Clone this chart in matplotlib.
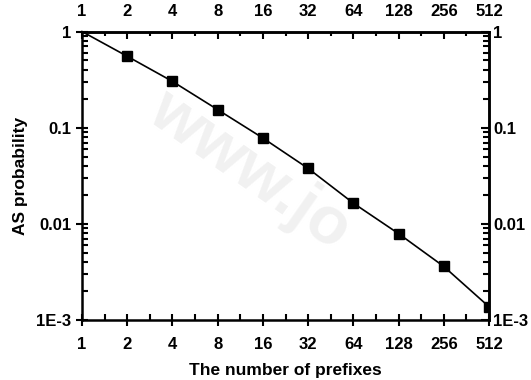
import numpy as np
import matplotlib.pyplot as plt
from matplotlib.ticker import FixedLocator, LogLocator, NullFormatter

plt.rcParams['font.family'] = ['Liberation Sans', 'DejaVu Sans']
plt.rcParams['font.weight'] = 'bold'

# --- данные ---
prefixes = [1, 2, 4, 8, 16, 32, 64, 128, 256, 512]
as_prob = [1.0, 0.553, 0.303, 0.154, 0.078, 0.0377, 0.0164, 0.0079, 0.0036, 0.00137]

x_ticks = [1, 2, 4, 8, 16, 32, 64, 128, 256, 512]
x_minor = [1.414 * v for v in x_ticks[:-1]]
y_ticks = [1e-3, 1e-2, 1e-1, 1]
y_labels = ['1E-3', '0.01', '0.1', '1']

fig = plt.figure(figsize=(5.31, 3.80), dpi=100)
ax = fig.add_axes([0.1544, 0.158, 0.7666, 0.759])

# бледный водяной знак
fig.text(0.47, 0.55, 'www.jo', fontsize=48, color='#f1f1f1', rotation=-35,
         ha='center', va='center', zorder=0, fontweight='bold')
ax.patch.set_alpha(0)

ax.plot(prefixes, as_prob, 'k-', linewidth=1.2, clip_on=False, zorder=3)
ax.plot(prefixes[1:], as_prob[1:], 'ks', markersize=6.5, zorder=4)

ax.set_xscale('log', base=2)
ax.set_yscale('log')
ax.set_xlim(1, 512)
ax.set_ylim(1e-3, 1)

ax.xaxis.set_major_locator(FixedLocator(x_ticks))
ax.xaxis.set_minor_locator(FixedLocator(x_minor))
ax.set_xticklabels([str(v) for v in x_ticks])
ax.xaxis.set_minor_formatter(NullFormatter())
ax.yaxis.set_major_locator(FixedLocator(y_ticks))
ax.set_yticklabels(y_labels)
ax.yaxis.set_minor_locator(LogLocator(base=10, subs=np.arange(2, 10)))
ax.yaxis.set_minor_formatter(NullFormatter())

ax.tick_params(which='major', direction='inout', length=9, width=1.5, labelsize=12, pad=3)
ax.tick_params(axis='x', which='major', pad=8)
ax.tick_params(which='minor', direction='in', length=4, width=1.5)

for s in ax.spines.values():
    s.set_linewidth(1.8)

# верхняя и правая оси
top = ax.secondary_xaxis('top')
top.xaxis.set_major_locator(FixedLocator(x_ticks))
top.xaxis.set_minor_locator(FixedLocator(x_minor))
top.set_xticklabels([str(v) for v in x_ticks])
top.xaxis.set_minor_formatter(NullFormatter())
top.tick_params(which='major', direction='in', length=5, width=1.5, labelsize=12, pad=9)
top.tick_params(which='minor', direction='in', length=3, width=1.5)
top.spines['top'].set_linewidth(1.8)

right = ax.secondary_yaxis('right')
right.yaxis.set_major_locator(FixedLocator(y_ticks))
right.set_yticklabels(y_labels)
right.yaxis.set_minor_locator(LogLocator(base=10, subs=np.arange(2, 10)))
right.yaxis.set_minor_formatter(NullFormatter())
right.tick_params(which='major', direction='in', length=6, width=1.5, labelsize=12, pad=3)
right.tick_params(which='minor', direction='in', length=4, width=1.5)
right.spines['right'].set_linewidth(1.8)

ax.set_xlabel('The number of prefixes', fontsize=12.5, fontweight='bold', labelpad=8)
ax.set_ylabel('AS probability', fontsize=12.5, fontweight='bold', labelpad=6)

fig.savefig('out.png', dpi=100)
